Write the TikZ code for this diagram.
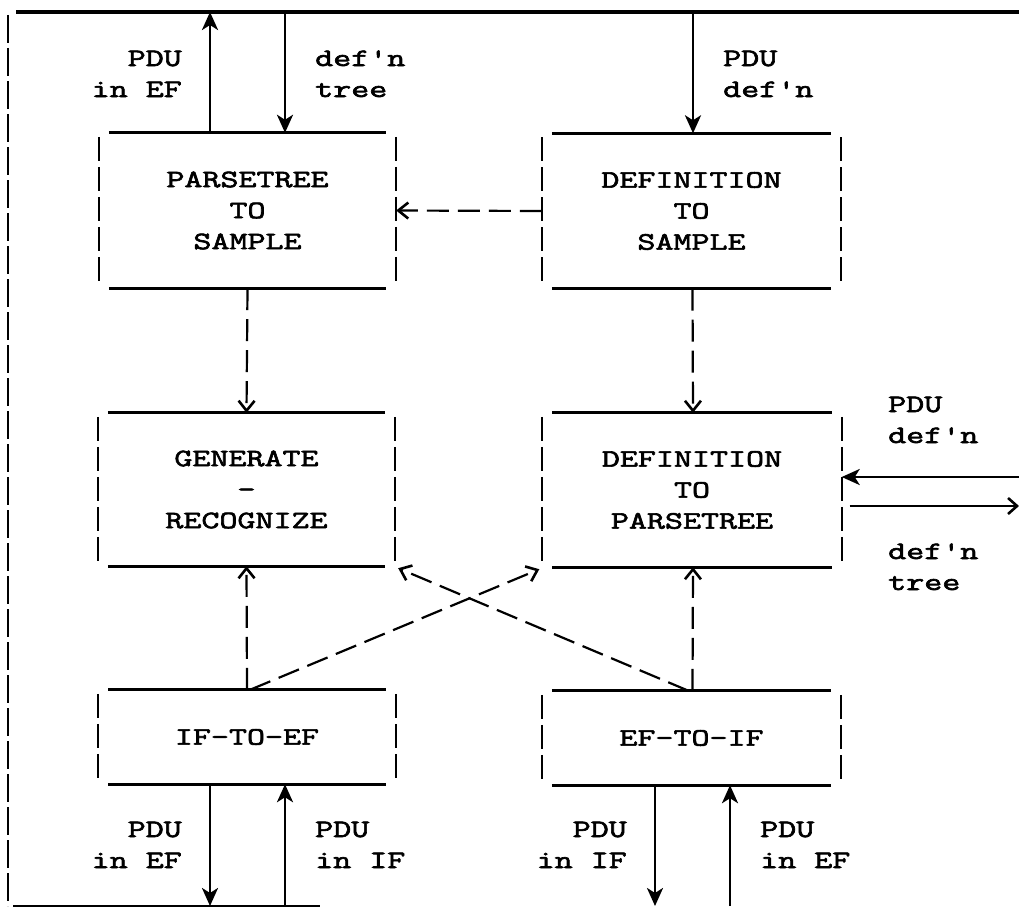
\documentclass[tikz,border=0pt]{standalone}
\usepackage{fontspec}
\newfontfamily\cour{Latin Modern Mono}[FakeStretch=1.4, FakeBold=2.6]
\usetikzlibrary{arrows.meta}
\tikzset{
  txt/.style={font=\cour\fontsize{25}{31}\selectfont, inner sep=0pt},
  box/.style={txt, minimum width=297pt, align=center},
  lbl/.style={txt, align=left},
  lblr/.style={txt, align=right},
  edge/.style={line width=3.2pt},
  side/.style={line width=2.2pt, dash pattern=on 24pt off 6pt},
  frame/.style={line width=2.2pt, dash pattern=on 28pt off 5pt},
  sarrow/.style={line width=2.8pt, -{Stealth[length=18pt,width=16pt,inset=5pt]}},
  darrow/.style={line width=2.2pt, dash pattern=on 22pt off 9pt, -{Straight Barb[length=10pt,width=16pt,line width=2.6pt]}},
}
\begin{document}
\begin{tikzpicture}[x=1pt,y=-1pt]
\useasboundingbox (0,0) rectangle (1019,907);
% outer frame
\coordinate (tl) at (16,12);
\coordinate (tr) at (1019,12);
\coordinate (fl) at (8,15);
\coordinate (bl) at (8,906);
\coordinate (bb) at (13,906);
\coordinate (br) at (320,906);
\draw[line width=3.2pt] (tl) -- (tr);
\draw[frame] (fl) -- (bl);
\draw[line width=2pt] (bb) -- (br);
\coordinate (rr) at (1019,490);

% boxes
\node[box, minimum height=155pt] (b1) at (247.5,210.5) {PARSETREE\\TO\\SAMPLE};
\node[box, minimum height=155pt, minimum width=299pt] (b2) at (691.5,211) {DEFINITION\\TO\\SAMPLE};
\node[box, minimum height=153pt] (b3) at (246.5,489.5) {GENERATE\\-\\RECOGNIZE};
\node[box, minimum height=154pt, minimum width=299pt] (b4) at (692,490) {DEFINITION\\TO\\PARSETREE};
\node[box, minimum height=94pt] (b5) at (247,737) {IF-TO-EF};
\node[box, minimum height=94pt, minimum width=299pt] (b6) at (691.5,738) {EF-TO-IF};

\foreach \n in {b1,b2,b3,b4,b5,b6}{
  \draw[edge] ([xshift=10pt]\n.north west) -- ([xshift=-10pt]\n.north east);
  \draw[edge] ([xshift=10pt]\n.south west) -- ([xshift=-10pt]\n.south east);
  \draw[side] ([yshift=-4pt]\n.north west) -- ([yshift=2pt]\n.south west);
  \draw[side] ([yshift=-4pt]\n.north east) -- ([yshift=2pt]\n.south east);
}

% top connections
\draw[sarrow] ([xshift=-37.5pt]b1.north) -- ([xshift=-37.5pt]b1.north |- tl);
\draw[sarrow] ([xshift=37.5pt]b1.north |- tl) -- ([xshift=37.5pt]b1.north);
\draw[sarrow] ([xshift=1.5pt]b2.north |- tl) -- ([xshift=1.5pt]b2.north);
\node[lblr, anchor=base east] at (182,97) {PDU\\in EF};
\node[lbl, anchor=base west] at (315,97) {def'n\\tree};
\node[lbl, anchor=base west] at (723,97) {PDU\\def'n};

% internal dashed
\draw[darrow] (b2.west) -- (b1.east);
\draw[darrow] (b1.south) -- (b3.north);
\draw[darrow] ([xshift=1pt]b2.south) -- ([xshift=1pt]b4.north);
\draw[darrow] (b5.north) -- (b3.south);
\draw[darrow] ([xshift=1pt]b6.north) -- ([xshift=1pt]b4.south);
\draw[darrow] ([xshift=3pt]b5.north) -- ([xshift=-3pt,yshift=-2pt]b4.south west);
\draw[darrow] ([xshift=-3pt]b6.north) -- ([xshift=3pt,yshift=-2pt]b3.south east);

% right side
\draw[sarrow] (rr |- 0,477) -- (b4.east |- 0,477);
\draw[line width=2.6pt, -{Straight Barb[length=9pt,width=16pt,line width=2.6pt]}] ([xshift=8pt]b4.east |- 0,506) -- (rr |- 0,506);
\node[lbl, anchor=base west] at (888,443) {PDU\\def'n};
\node[lbl, anchor=base west] at (888,590) {def'n\\tree};

% bottom connections
\draw[sarrow] ([xshift=-37pt]b5.south) -- ([xshift=-37pt]b5.south |- bb);
\draw[sarrow] ([xshift=38pt]b5.south |- bb) -- ([xshift=38pt]b5.south);
\draw[sarrow] ([xshift=-36.5pt]b6.south) -- ([xshift=-36.5pt]b6.south |- bb);
\draw[sarrow] ([xshift=38.5pt]b6.south |- bb) -- ([xshift=38.5pt]b6.south);
\node[lblr, anchor=base east] at (182,868) {PDU\\in EF};
\node[lbl, anchor=base west] at (315,868) {PDU\\in IF};
\node[lblr, anchor=base east] at (627,868) {PDU\\in IF};
\node[lbl, anchor=base west] at (760,868) {PDU\\in EF};
\end{tikzpicture}
\end{document}
